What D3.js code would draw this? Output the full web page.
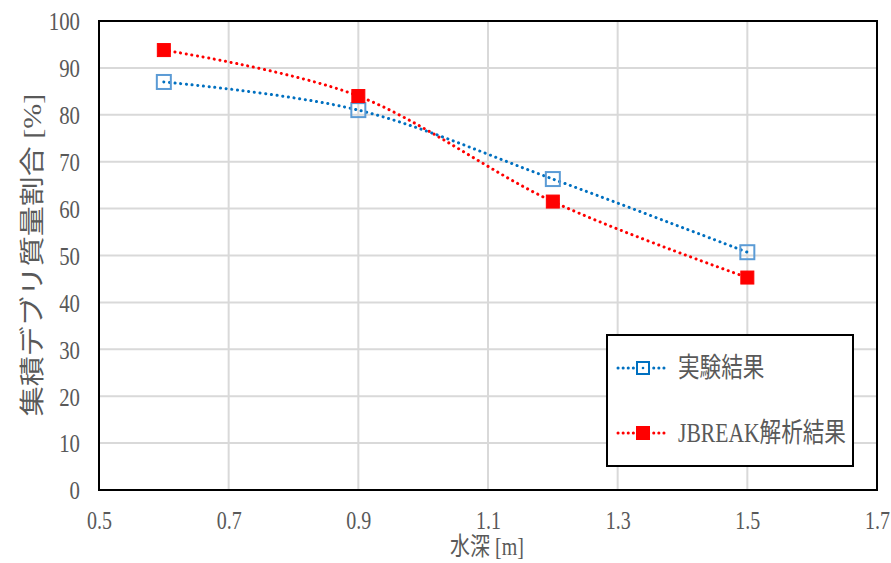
<!DOCTYPE html>
<html><head><meta charset="utf-8">
<script src="https://cdn.jsdelivr.net/npm/d3@7"></script>
<style>body{margin:0;background:#fff}svg{display:block}</style>
</head><body><svg id="c" width="891" height="563"></svg>
<script>
const depths = [0.6, 0.9, 1.2, 1.5];
const experiment = [87.0, 81.0, 66.3, 50.7];
const jbreak = [93.8, 84.0, 61.5, 45.3];
const xTicks = [0.5, 0.7, 0.9, 1.1, 1.3, 1.5, 1.7];
const yTicks = [0,10,20,30,40,50,60,70,80,90,100];
const seriesNames = ["実験結果", "JBREAK解析結果"];

const svg = d3.select("#c");
const L = 99, R = 877, T = 21, B = 490;
const x = d3.scaleLinear().domain([0.5, 1.7]).range([L, R]);
const y = d3.scaleLinear().domain([0, 100]).range([B, T]);
const font = "'Liberation Serif','Noto Sans CJK JP',serif";
const grey = "#595959";

// grid
svg.append("g").selectAll("line").data(yTicks).join("line")
  .attr("x1", L).attr("x2", R).attr("y1", d => y(d)).attr("y2", d => y(d))
  .attr("stroke", "#d9d9d9").attr("stroke-width", 2);
svg.append("g").selectAll("line").data(xTicks).join("line")
  .attr("y1", T).attr("y2", B).attr("x1", d => x(d)).attr("x2", d => x(d))
  .attr("stroke", "#d9d9d9").attr("stroke-width", 2);

// y axis labels
const yAxis = d3.axisLeft(y).tickValues(yTicks).tickSize(0).tickPadding(0);
const gy = svg.append("g").attr("transform", `translate(${L - 19},0)`).call(yAxis);
gy.select(".domain").remove();
gy.selectAll("text").attr("font-family", font).attr("font-size", 26).attr("fill", grey)
  .attr("dy", "0.34em").attr("transform", "scale(0.8,1)");

// x axis labels
const xAxis = d3.axisBottom(x).tickValues(xTicks).tickSize(0).tickPadding(0).tickFormat(d3.format(".1f"));
const gx = svg.append("g").attr("transform", `translate(0,${B + 21})`).call(xAxis);
gx.select(".domain").remove();
gx.selectAll("text").attr("font-family", font).attr("font-size", 25).attr("fill", grey)
  .attr("dy", "0.72em").attr("transform", "scale(0.8,1)");

// plot frame
svg.append("rect").attr("x", L).attr("y", T).attr("width", R - L).attr("height", B - T)
  .attr("fill", "none").attr("stroke", "#000").attr("stroke-width", 2);

// titles
svg.append("text").attr("transform", `translate(${487},${555}) scale(0.8,1)`)
  .attr("text-anchor", "middle").attr("font-family", font).attr("font-size", 25).attr("fill", grey)
  .text("水深 [m]");
svg.append("text").attr("transform", `translate(${41},${255}) rotate(-90) scale(1,0.85)`)
  .attr("text-anchor", "middle").attr("font-family", font).attr("font-size", 30).attr("fill", grey)
  .text("集積デブリ質量割合 [%]");

// lines
const line = d3.line().x(d => x(d[0])).y(d => y(d[1])).curve(d3.curveCardinal.tension(0));
const expData = depths.map((d, i) => [d, experiment[i]]);
const jbData = depths.map((d, i) => [d, jbreak[i]]);
const dash = "0.1 5.6";
svg.append("path").datum(jbData).attr("d", line).attr("fill", "none")
  .attr("stroke", "#ff0000").attr("stroke-width", 3).attr("stroke-linecap", "round").attr("stroke-dasharray", dash);
svg.append("path").datum(expData).attr("d", line).attr("fill", "none")
  .attr("stroke", "#0070c0").attr("stroke-width", 3).attr("stroke-linecap", "round").attr("stroke-dasharray", dash);

// markers
svg.append("g").selectAll("rect").data(expData).join("rect")
  .attr("x", d => x(d[0]) - 7).attr("y", d => y(d[1]) - 7).attr("width", 14).attr("height", 14)
  .attr("fill", "none").attr("stroke", "#5b9bd5").attr("stroke-width", 2);
svg.append("g").selectAll("rect").data(jbData).join("rect")
  .attr("x", d => x(d[0]) - 6.5).attr("y", d => y(d[1]) - 6.5).attr("width", 13).attr("height", 13)
  .attr("fill", "#ff0000").attr("stroke", "#ff0000").attr("stroke-width", 1);

// legend
const lg = svg.append("g");
lg.append("rect").attr("x", 607).attr("y", 335).attr("width", 246).attr("height", 131)
  .attr("fill", "#fff").attr("stroke", "#000").attr("stroke-width", 2);
const items = [
  {name: seriesNames[0], color: "#0070c0", mk: "#5b9bd5", fill: "none", yy: 368},
  {name: seriesNames[1], color: "#ff0000", mk: "#ff0000", fill: "#ff0000", yy: 433}
];
items.forEach(it => {
  lg.append("line").attr("x1", 618).attr("x2", 668).attr("y1", it.yy).attr("y2", it.yy)
    .attr("stroke", it.color).attr("stroke-width", 3).attr("stroke-linecap", "round").attr("stroke-dasharray", "0.1 5");
  lg.append("rect").attr("x", 637).attr("y", it.yy - 6).attr("width", 12).attr("height", 12)
    .attr("fill", it.fill === "none" ? "#fff" : it.fill).attr("stroke", it.fill === "none" ? "#0070c0" : it.mk).attr("stroke-width", 2);
  if (it.fill === "none") lg.append("circle").attr("cx", 643).attr("cy", it.yy).attr("r", 1.3).attr("fill", "#0070c0");
  lg.append("text").attr("transform", `translate(678,${it.yy}) scale(0.8,1)`).attr("dy", "0.35em")
    .attr("font-family", font).attr("font-size", 27).attr("fill", grey).text(it.name);
});
</script></body></html>
